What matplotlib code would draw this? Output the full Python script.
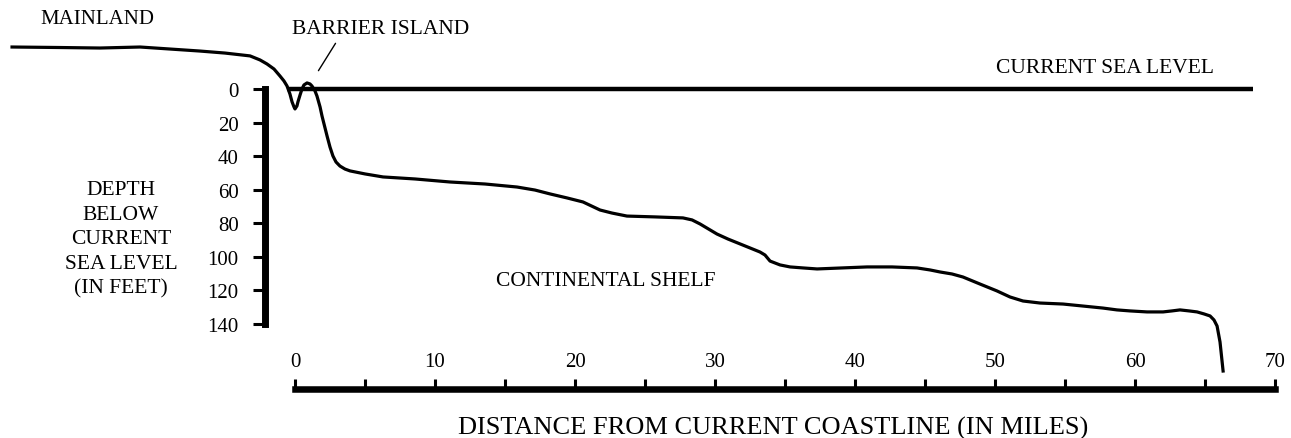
import numpy as np
import matplotlib
matplotlib.use('Agg')
import matplotlib.pyplot as plt

plt.rcParams['font.family'] = ['Liberation Serif', 'DejaVu Serif']
plt.rcParams['font.size'] = 15

# profile: distance from coastline (miles) vs depth below sea level (feet)
miles = [-20.21, -16.79, -13.93, -11.07, -8.93, -6.79, -5.0, -3.21, -2.5, -2.0,
         -1.5, -1.07, -0.79, -0.57, -0.36, -0.21, -0.07, 0.0, 0.14, 0.21,
         0.36, 0.5, 0.64, 0.86, 1.07, 1.21, 1.43, 1.57, 1.79, 1.93,
         2.29, 2.5, 2.71, 2.93, 3.21, 3.57, 3.93, 5.0, 6.29, 8.57,
         11.07, 13.57, 15.86, 17.14, 18.21, 19.43, 20.57, 21.79, 22.64, 23.71,
         25.71, 27.71, 28.36, 28.93, 30.14, 30.93, 31.79, 32.5, 33.21, 33.57,
         33.93, 34.64, 35.36, 36.29, 37.29, 39.07, 40.86, 42.64, 44.43, 45.36,
         46.07, 46.93, 47.71, 48.93, 50.14, 51.07, 52.0, 53.21, 54.86, 56.29,
         57.71, 58.71, 59.64, 60.86, 62.0, 62.64, 63.21, 63.86, 64.43, 64.93,
         65.36, 65.64, 65.86, 66.07, 66.29]
depth = [-25.0, -24.7, -24.4, -25.0, -23.8, -22.6, -21.4, -19.7, -17.3, -14.9,
         -11.9, -7.7, -4.8, -1.8, 3.0, 7.7, 10.7, 11.9, 10.1, 7.7,
         3.6, 0.0, -2.4, -3.6, -3.0, -1.8, 1.2, 4.2, 10.7, 16.1,
         28.0, 34.6, 39.9, 43.5, 45.9, 47.7, 48.8, 50.6, 52.4, 53.6,
         55.4, 56.6, 58.4, 60.2, 62.5, 64.9, 67.3, 72.1, 73.9, 75.7,
         76.2, 76.8, 78.0, 80.4, 86.4, 89.4, 92.3, 94.7, 97.1, 98.9,
         102.5, 104.8, 106.0, 106.6, 107.2, 106.6, 106.0, 106.0, 106.6, 107.8,
         109.0, 110.2, 112.0, 116.2, 120.3, 123.9, 126.3, 127.5, 128.1, 129.3,
         130.5, 131.6, 132.2, 132.8, 132.8, 132.2, 131.6, 132.2, 132.8, 134.0,
         135.2, 137.6, 141.2, 150.7, 168.0]

y_ticks = [0, 20, 40, 60, 80, 100, 120, 140]
x_ticks = list(range(0, 71, 5))
x_labels = [str(t) if t % 10 == 0 else '' for t in x_ticks]

fig = plt.figure(figsize=(12.91, 4.39), dpi=100)
ax = fig.add_axes([0, 0, 1, 1])
ax.set_xlim(-21.07, 71.14)
ax.set_ylim(207.9, -53.6)

# sea level line
ax.plot([-0.57, 68.4], [0, 0], color='black', lw=3.2, solid_capstyle='butt', zorder=2)
# bottom profile
ax.plot(miles, depth, color='black', lw=2.3, solid_joinstyle='round', zorder=3)

# left (depth) axis
ax.spines['left'].set_position(('data', -2.11))
ax.spines['left'].set_bounds(0, 140)
ax.spines['left'].set_linewidth(5)
ax.set_yticks(y_ticks)
ax.tick_params(axis='y', direction='out', length=8.3, width=2.2, pad=11, labelsize=15)

# distance axis drawn as top spine with ticks pointing up
ax.xaxis.tick_top()
ax.spines['top'].set_position(('data', 178.7))
ax.spines['top'].set_bounds(0, 70)
ax.spines['top'].set_linewidth(4.7)
ax.set_xticks(x_ticks)
ax.set_xticklabels(x_labels)
ax.tick_params(axis='x', direction='out', length=7.2, width=2.2, pad=6, labelsize=15)

ax.spines['right'].set_visible(False)
ax.spines['bottom'].set_visible(False)
ax.patch.set_alpha(0)

W, H = 1291.0, 439.0
def px(x, y):
    return x / W, 1 - y / H

fig.text(*px(97, 19), 'MAINLAND', ha='center', va='center')
fig.text(*px(381, 29), 'BARRIER ISLAND', ha='center', va='center', fontsize=15.5)
fig.text(*px(1105, 69), 'CURRENT SEA LEVEL', ha='center', va='center', fontsize=15.5)
fig.text(*px(121, 240), 'DEPTH\nBELOW\nCURRENT\nSEA LEVEL\n(IN FEET)', ha='center', va='center',
         linespacing=1.4, fontsize=15.5)
fig.text(*px(606, 282), 'CONTINENTAL SHELF', ha='center', va='center', fontsize=15.5)
fig.text(*px(773, 428), 'DISTANCE FROM CURRENT COASTLINE (IN MILES)', ha='center', va='center',
         fontsize=19)

# leader line for barrier island label
ax.annotate('', xy=(1.57, -9.5), xytext=(3.0, -28.6),
            arrowprops=dict(arrowstyle='-', color='black', lw=1.0))

fig.savefig('out.png', dpi=100)
